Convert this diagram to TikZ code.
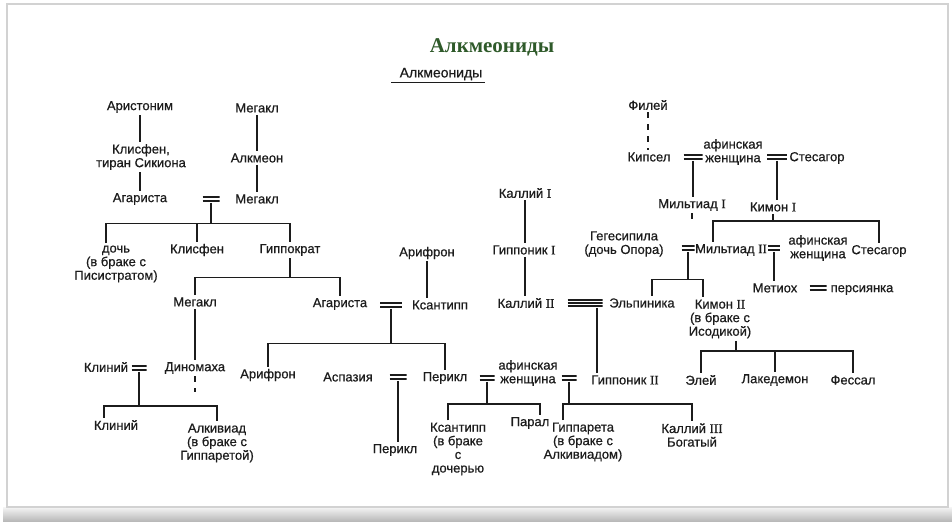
\documentclass[tikz,border=0pt]{standalone}
\usepackage{fontspec}
\setmainfont{Liberation Serif}
\setsansfont{Liberation Sans}
\newfontfamily\treefont{Liberation Sans}[FakeBold=0.6]
\newfontfamily\romfont{Liberation Serif}[FakeBold=0.6]
\usetikzlibrary{positioning,calc}
\definecolor{TitleGreen}{HTML}{2F5A2A}
\definecolor{InkGray}{HTML}{1C1C1C}
\definecolor{FrameGray}{HTML}{D2D2D2}
\newcommand{\rn}[1]{{\romfont #1}}
\tikzset{
  % Person
  PN/.style={font=\treefont\fontsize{6.5}{6.8}\selectfont,
             align=center,inner sep=1pt,text=InkGray},
  % Marriage sign (two bars)
  WD/.style={minimum width=#1,minimum height=3.4pt,inner sep=0pt,
             path picture={\draw[line width=0.7pt,InkGray]
               ([yshift=1pt]path picture bounding box.west)--([yshift=1pt]path picture bounding box.east)
               ([yshift=-1pt]path picture bounding box.west)--([yshift=-1pt]path picture bounding box.east);}},
  WD/.default=8pt,
  % Marriage sign (three bars)
  WT/.style={minimum width=#1,minimum height=4.6pt,inner sep=0pt,
             path picture={\draw[line width=0.7pt,InkGray]
               ([yshift=1.5pt]path picture bounding box.west)--([yshift=1.5pt]path picture bounding box.east)
               (path picture bounding box.west)--(path picture bounding box.east)
               ([yshift=-1.5pt]path picture bounding box.west)--([yshift=-1.5pt]path picture bounding box.east);}},
  % Line
  ln/.style={line width=0.7pt,InkGray}
}

\begin{document}
\begin{tikzpicture}[x=0.5pt,y=-0.5pt]
  \useasboundingbox (0,0) rectangle (952,523);

  %------ FRAME ------
  \fill[white] (0,0) rectangle (952,523);
  \shade[top color=gray!8,bottom color=gray!55] (3,507) rectangle (952,521);
  \draw[FrameGray,line width=0.8pt] (7,4) rectangle (948,507);

  %------ TITLE ------
  \node[font=\rmfamily\bfseries\fontsize{10.5}{12}\selectfont,text=TitleGreen] (ttl) at (492,47) {Алкмеониды};
  \node[PN,font=\treefont\fontsize{7}{8}\selectfont] (sub) at (441,74) {Алкмеониды};
  \draw[ln] ([xshift=-3pt]sub.south west)--(sub.south east);

  %------ LEFT: SICYON + ALCMAEON ------
  \node[PN] (ari)  at (140,107) {Аристоним};
  \node[PN] (meg1) at (257,108) {Мегакл};
  \node[PN] (kli)  at (141,157) {Клисфен,\\тиран Сикиона};
  \node[PN] (alk)  at (257,158) {Алкмеон};
  \node[PN] (aga1) at (140,199) {Агариста};
  \node[PN] (meg2) at (257,199) {Мегакл};
  \node[WD=8.5pt] (w1) at (211,199) {};

  \node[PN] (dau)   at (116,264) {дочь\\(в браке с\\Писистратом)};
  \node[PN] (klis2) at (197,250) {Клисфен};
  \node[PN] (hip)   at (290,250) {Гиппократ};

  \node[PN] (meg3) at (195,302) {Мегакл};
  \node[PN] (aga2) at (340,304) {Агариста};
  \node[WD=11pt] (w2) at (391,305) {};
  \node[PN] (ksa)  at (440,305) {Ксантипп};
  \node[PN] (arif1) at (427,253) {Арифрон};

  \node[PN] (kli2) at (106,367) {Клиний};
  \node[WD=7.5pt] (w3) at (139,368) {};
  \node[PN] (din)  at (195,368) {Диномаха};
  \node[PN] (kli3) at (116,425) {Клиний};
  \node[PN] (alc)  at (217,443) {Алкивиад\\(в браке с\\Гиппаретой)};

  %------ MIDDLE: PERICLES ------
  \node[PN] (arif2) at (268,375) {Арифрон};
  \node[PN] (asp)   at (348,377) {Аспазия};
  \node[WD=8.5pt] (w4) at (398,377) {};
  \node[PN] (per1)  at (445,378) {Перикл};
  \node[WD=7.5pt] (w5) at (487,378) {};
  \node[PN] (wom1)  at (528,373) {афинская\\женщина};
  \node[WD=7.5pt] (w6) at (569,378) {};
  \node[PN] (gip2)  at (625,380) {Гиппоник \rn{II}};
  \node[PN] (per2)  at (395,450) {Перикл};
  \node[PN] (ksa2)  at (458,449) {Ксантипп\\(в браке\\с\\дочерью};
  \node[PN] (par)   at (530,423) {Парал};
  \node[PN] (gipa)  at (583,442) {Гиппарета\\(в браке с\\Алкивиадом)};
  \node[PN] (kal3)  at (692,435) {Каллий \rn{III}\\Богатый};

  %------ MIDDLE: CALLIAS ------
  \node[PN] (kal1) at (525,193) {Каллий \rn{I}};
  \node[PN] (gip1) at (524,250) {Гиппоник \rn{I}};
  \node[PN] (kal2) at (526,303) {Каллий \rn{II}};
  \node[WT=17.5pt] (w7) at (585,303) {};
  \node[PN] (elp)  at (642,303) {Эльпиника};

  %------ RIGHT: PHILAIDS ------
  \node[PN] (fil)  at (648,105) {Филей};
  \node[PN] (kip)  at (649,157) {Кипсел};
  \node[WD=9.5pt] (w8) at (693,157) {};
  \node[PN] (wom2) at (733,152) {афинская\\женщина};
  \node[WD=10pt] (w9) at (777,157) {};
  \node[PN] (ste1) at (817,158) {Стесагор};
  \node[PN] (mil1) at (692,205) {Мильтиад \rn{I}};
  \node[PN] (kim1) at (773,207) {Кимон \rn{I}};

  \node[PN] (geg)  at (624,244) {Гегесипила\\(дочь Опора)};
  \node[WD=6.5pt] (w10) at (688,248) {};
  \node[PN] (mil2) at (731,250) {Мильтиад \rn{II}};
  \node[WD=6pt] (w11) at (774,248) {};
  \node[PN] (wom3) at (818,248) {афинская\\женщина};
  \node[PN] (ste2) at (879,251) {Стесагор};
  \node[PN] (met)  at (775,288) {Метиох};
  \node[WD=8.5pt] (w12) at (818,288) {};
  \node[PN] (pers) at (862,290) {персиянка};
  \node[PN] (kim2) at (720,319) {Кимон \rn{II}\\(в браке с\\Исодикой)};
  \node[PN] (elei) at (701,380) {Элей};
  \node[PN] (lak)  at (775,380) {Лакедемон};
  \node[PN] (fes)  at (853,380) {Фессал};

  % LEFT lines
  \draw[ln](ari)--(ari|-kli.north);
  \draw[ln](kli.south-|ari)--(aga1);
  \draw[ln](meg1)--(alk);
  \draw[ln](alk)--(meg2);
  \draw[ln](w1.south)--++(0,21) coordinate (j1);
  \draw[ln]([xshift=-5pt]dau.north)|-(j1)-|(hip.north);
  \draw[ln](klis2.north)--(klis2.north|-j1);
  \draw[ln](hip.south)--++(0,19) coordinate (j2);
  \draw[ln](meg3.north)|-(j2)-|(aga2.north);
  \draw[ln](meg3)--(din);
  \draw[ln,dashed](din.south)--++(0,16) coordinate (d1);
  \draw[ln](arif1)--(arif1|-ksa.north);
  \draw[ln](w3.south)--++(0,34) coordinate (j4);
  \draw[ln]([xshift=-6pt]kli3.north)|-(j4)-|(alc.north);

  % MIDDLE lines
  \draw[ln](w2.south)--++(0,35) coordinate (j3);
  \draw[ln](arif2.north)|-(j3)-|(per1.north);
  \draw[ln](w4.south)--(w4.south|-per2.north);
  \draw[ln](w5.south)--++(0,22) coordinate (j5);
  \draw[ln]([xshift=-5pt]ksa2.north)|-(j5)-|([xshift=5pt]par.north);
  \draw[ln](w6.south)--++(0,22) coordinate (j6);
  \draw[ln]([xshift=-10pt]gipa.north)|-(j6)-|(kal3.north);
  \draw[ln](kal1)--(kal1|-gip1.north);
  \draw[ln](gip1.south-|kal1)--(kal1|-kal2.north);
  \coordinate (s7) at ([xshift=6pt]w7.south);
  \draw[ln](s7)--(s7|-gip2.north);

  % RIGHT lines
  \draw[ln,dashed](fil)--(fil|-kip.north);
  \draw[ln](w8.south)--(w8.south|-mil1.north);
  \draw[ln](w9.south)--(w9.south|-kim1.north);
  \draw[ln,dashed](mil1.south)--++(0,8) coordinate (d2);
  \draw[ln](kim1.south)--++(0,7) coordinate (j7);
  \draw[ln]([xshift=-9pt]mil2.north)|-(j7)-|(ste2.north);
  \draw[ln](w10.south)--++(0,28) coordinate (j8);
  \draw[ln]([xshift=5pt]elp.north)|-(j8)-|([xshift=-8.5pt]kim2.north);
  \draw[ln](w11.south)--(w11.south|-met.north);
  \draw[ln]([xshift=8pt]kim2.south)--++(0,10) coordinate (j9);
  \draw[ln](elei.north)|-(j9)-|(fes.north);
  \draw[ln](lak.north)--(lak.north|-j9);
\end{tikzpicture}
\end{document}
